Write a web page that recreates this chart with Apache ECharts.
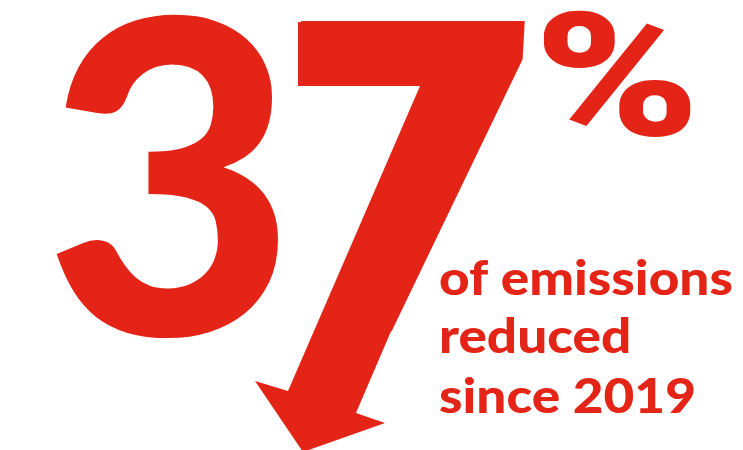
<!DOCTYPE html>
<html><head><meta charset="utf-8">
<script src="https://cdn.jsdelivr.net/npm/echarts@6/dist/echarts.min.js"></script>
<style>html,body{margin:0;padding:0;background:#fff}#c{width:743px;height:450px}</style>
</head><body><div id="c"></div>
<script>
const headlineDigits = ['3', '7'];
const headlineSuffix = ['%'];
const captionLines = ['of emissions', 'reduced', 'since 2019'];

const RED = '#e32417';
const chart = echarts.init(document.getElementById('c'), null, {renderer: 'canvas'});

// stem edges of the arrow-shaped 7 (decorative geometry)
const L = y => 420 - 0.4328 * (y - 86);
const R = y => 524 - 0.4286 * (y - 21);

const graphic = [
  {type: 'text', x: 44, y: 194, style: {text: headlineDigits[0], font: '900 436px Lato', fill: RED, align: 'left', verticalAlign: 'middle'}},
  {type: 'text', x: 279, y: 222, skewX: -0.0554, style: {text: headlineDigits[1], font: '900 436px Roboto', fill: RED, align: 'left', verticalAlign: 'middle'}},
  {type: 'polygon', shape: {points: [[298,22],[R(22),22],[R(413),413],[385,423],[303,452],[255,381],[L(391),391],[L(86),86],[298,86]]}, style: {fill: RED}},
  {type: 'text', x: 534, y: 92, scaleX: 1.3, style: {text: headlineSuffix[0], font: '900 172px Roboto', fill: RED, align: 'left', verticalAlign: 'middle'}}
];
const capY = [280, 338, 398];
captionLines.forEach((t, i) => {
  graphic.push({type: 'text', x: 439, y: capY[i], scaleX: 1.13, style: {text: t, font: '900 47px Lato', fill: RED, align: 'left', verticalAlign: 'middle'}});
});

chart.setOption({backgroundColor: '#ffffff', animation: false, graphic: graphic});
</script></body></html>
